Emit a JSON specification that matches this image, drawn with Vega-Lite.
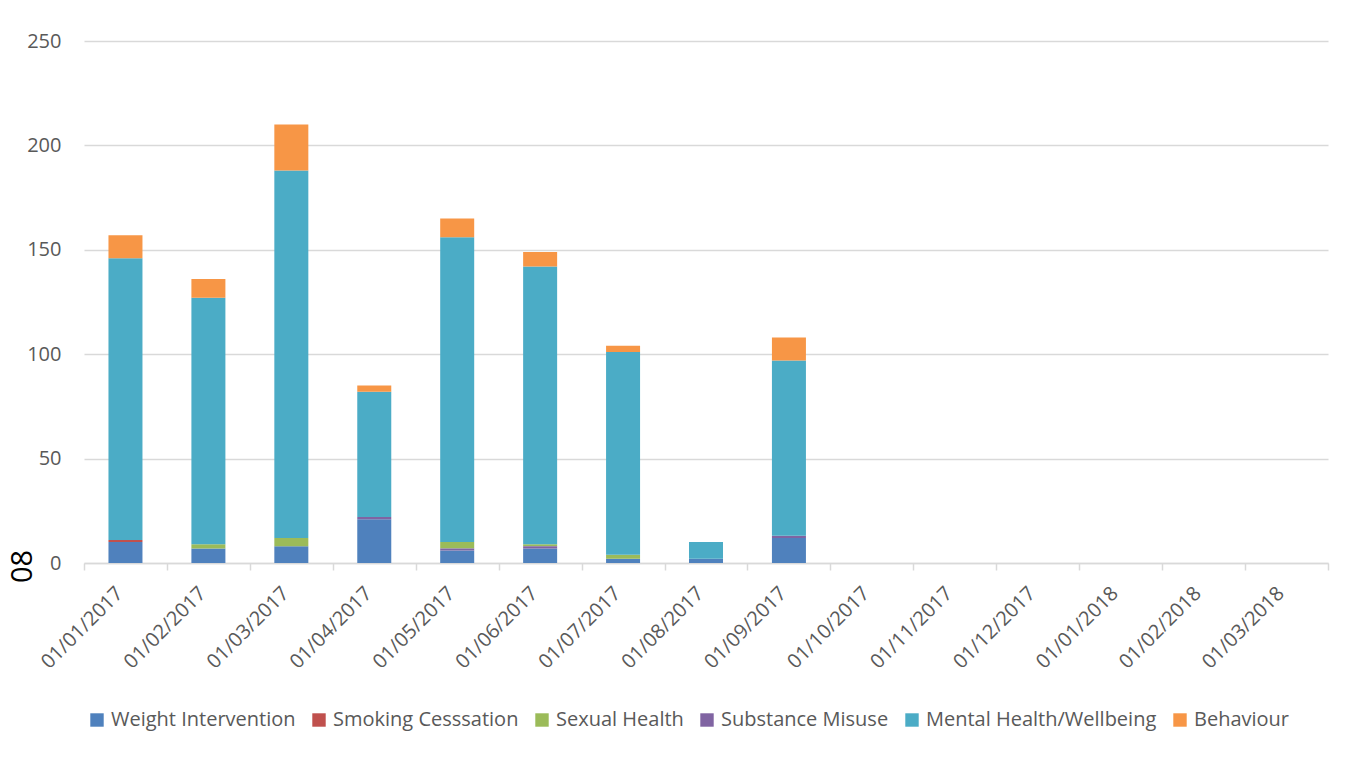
{
  "$schema": "https://vega.github.io/schema/vega-lite/v6.json",
  "width": 1244,
  "height": 522,
  "autosize": {"type": "none"},
  "padding": {"left": 84, "top": 41, "right": 31, "bottom": 218},
  "background": "white",
  "config": {
    "view": {"stroke": null},
    "font": "Open Sans",
    "axis": {"labelFont": "Open Sans", "labelColor": "#595959", "gridColor": "#d9d9d9", "gridWidth": 1.5}
  },
  "data": {
    "values": [
      {"month": "01/01/2017", "category": "Weight Intervention", "value": 10},
      {"month": "01/01/2017", "category": "Smoking Cesssation", "value": 1},
      {"month": "01/01/2017", "category": "Mental Health/Wellbeing", "value": 135},
      {"month": "01/01/2017", "category": "Behaviour", "value": 11},
      {"month": "01/02/2017", "category": "Weight Intervention", "value": 7},
      {"month": "01/02/2017", "category": "Sexual Health", "value": 2},
      {"month": "01/02/2017", "category": "Mental Health/Wellbeing", "value": 118},
      {"month": "01/02/2017", "category": "Behaviour", "value": 9},
      {"month": "01/03/2017", "category": "Weight Intervention", "value": 8},
      {"month": "01/03/2017", "category": "Sexual Health", "value": 4},
      {"month": "01/03/2017", "category": "Mental Health/Wellbeing", "value": 176},
      {"month": "01/03/2017", "category": "Behaviour", "value": 22},
      {"month": "01/04/2017", "category": "Weight Intervention", "value": 21},
      {"month": "01/04/2017", "category": "Substance Misuse", "value": 1},
      {"month": "01/04/2017", "category": "Mental Health/Wellbeing", "value": 60},
      {"month": "01/04/2017", "category": "Behaviour", "value": 3},
      {"month": "01/05/2017", "category": "Weight Intervention", "value": 6},
      {"month": "01/05/2017", "category": "Sexual Health", "value": 3},
      {"month": "01/05/2017", "category": "Substance Misuse", "value": 1},
      {"month": "01/05/2017", "category": "Mental Health/Wellbeing", "value": 146},
      {"month": "01/05/2017", "category": "Behaviour", "value": 9},
      {"month": "01/06/2017", "category": "Weight Intervention", "value": 7},
      {"month": "01/06/2017", "category": "Sexual Health", "value": 1},
      {"month": "01/06/2017", "category": "Substance Misuse", "value": 1},
      {"month": "01/06/2017", "category": "Mental Health/Wellbeing", "value": 133},
      {"month": "01/06/2017", "category": "Behaviour", "value": 7},
      {"month": "01/07/2017", "category": "Weight Intervention", "value": 2},
      {"month": "01/07/2017", "category": "Sexual Health", "value": 2},
      {"month": "01/07/2017", "category": "Mental Health/Wellbeing", "value": 97},
      {"month": "01/07/2017", "category": "Behaviour", "value": 3},
      {"month": "01/08/2017", "category": "Weight Intervention", "value": 2},
      {"month": "01/08/2017", "category": "Mental Health/Wellbeing", "value": 8},
      {"month": "01/09/2017", "category": "Weight Intervention", "value": 12},
      {"month": "01/09/2017", "category": "Substance Misuse", "value": 1},
      {"month": "01/09/2017", "category": "Mental Health/Wellbeing", "value": 84},
      {"month": "01/09/2017", "category": "Behaviour", "value": 11}
    ]
  },
  "mark": {"type": "bar", "width": {"band": 0.41}},
  "encoding": {
    "x": {
      "field": "month",
      "type": "nominal",
      "scale": {
        "domain": ["01/01/2017", "01/02/2017", "01/03/2017", "01/04/2017", "01/05/2017", "01/06/2017", "01/07/2017", "01/08/2017", "01/09/2017", "01/10/2017", "01/11/2017", "01/12/2017", "01/01/2018", "01/02/2018", "01/03/2018"],
        "paddingInner": 0,
        "paddingOuter": 0
      },
      "axis": {
        "title": null,
        "labelAngle": -45,
        "labelAlign": "right",
        "labelBaseline": "middle",
        "labelFontSize": 20,
        "labelPadding": 20,
        "labelOffset": -6,
        "domainColor": "#d9d9d9",
        "domainWidth": 1.5,
        "ticks": true,
        "tickBand": "extent",
        "tickColor": "#d9d9d9",
        "tickWidth": 1.5,
        "tickSize": 7,
        "grid": false
      }
    },
    "y": {
      "field": "value",
      "type": "quantitative",
      "aggregate": "sum",
      "stack": "zero",
      "scale": {"domain": [0, 250], "nice": false},
      "axis": {
        "title": "08",
        "titleAngle": -90,
        "titleFontSize": 29,
        "titleFontWeight": "normal",
        "titleColor": "black",
        "titleFont": "Open Sans",
        "titleX": -62,
        "titleY": 525,
        "titleAlign": "center",
        "titleBaseline": "middle",
        "values": [0, 50, 100, 150, 200, 250],
        "labelFontSize": 20,
        "labelPadding": 23,
        "domain": false,
        "ticks": false,
        "grid": true
      }
    },
    "color": {
      "field": "category",
      "type": "nominal",
      "sort": ["Weight Intervention", "Smoking Cesssation", "Sexual Health", "Substance Misuse", "Mental Health/Wellbeing", "Behaviour"],
      "scale": {
        "domain": ["Weight Intervention", "Smoking Cesssation", "Sexual Health", "Substance Misuse", "Mental Health/Wellbeing", "Behaviour"],
        "range": ["#4f81bd", "#c0504d", "#9bbb59", "#8064a2", "#4bacc6", "#f79646"]
      },
      "legend": {
        "title": null,
        "orient": "none",
        "legendX": 3,
        "legendY": 669,
        "direction": "horizontal",
        "symbolType": "square",
        "symbolSize": 180,
        "symbolStrokeWidth": 0,
        "labelFont": "Open Sans",
        "labelFontSize": 20,
        "labelColor": "#595959",
        "labelOffset": 4,
        "labelLimit": 0,
        "columnPadding": 13,
        "padding": 0
      }
    }
  }
}
